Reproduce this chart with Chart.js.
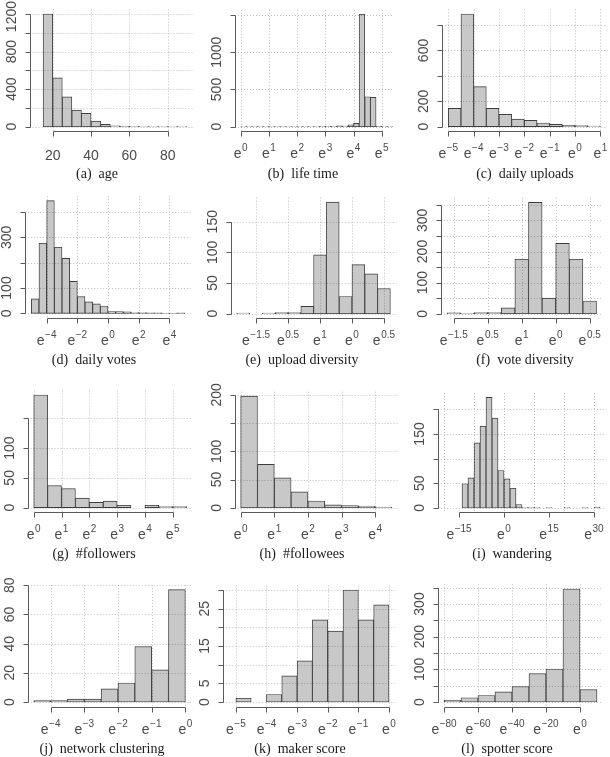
<!DOCTYPE html>
<html>
<head>
<meta charset="utf-8">
<script src="https://cdn.jsdelivr.net/npm/chart.js@4.4.1/dist/chart.umd.min.js"></script>
<style>
  body { margin: 0; background: #fff; }
  #page { position: relative; width: 610px; height: 757px; overflow: hidden; }
  #page canvas { position: absolute; left: 0; top: 0; }
  .cap { position: absolute; width: 200px; text-align: center; font: 14px "Liberation Serif", serif;
         color: #1a1a1a; line-height: 16px; white-space: pre; }
</style>
</head>
<body>
<div id="page"></div>
<script>
// ---- data (bin left edges, counts, axis ticks) ----
const ageBins = [10, 15, 20, 25, 30, 35, 40, 45, 50, 55, 60, 65, 70, 75, 80, 85];
const ageCounts = [0, 1200, 520, 318, 177, 142, 60, 25, 8, 5, 3, 2, 1, 1, 1, 1];
const ageXTicks = [20, 40, 60, 80];
const ageXLabels = ['20', '40', '60', '80'];
const ageYTicks = [0, 200, 400, 600, 800, 1000, 1200];
const ageYLabels = ['0', '', '400', '', '800', '', '1200'];

const lifeBins = [0, 0.2, 0.4, 0.6, 0.8, 1.0, 1.2, 1.4, 1.6, 1.8, 2.0, 2.2, 2.4, 2.6, 2.8, 3.0, 3.2, 3.4, 3.6, 3.8, 4.0, 4.2, 4.4, 4.6, 4.8, 5.0, 5.2];
const lifeCounts = [2, 1, 1, 2, 1, 1, 2, 2, 1, 2, 3, 2, 3, 3, 4, 4, 5, 12, 8, 25, 45, 1510, 403, 395, 6, 2, 1];
const lifeXTicks = [0, 1, 2, 3, 4, 5];
const lifeXLabels = ['0', '1', '2', '3', '4', '5'];
const lifeYTicks = [0, 500, 1000, 1500];
const lifeYLabels = ['0', '500', '1000', ''];

const uploadBins = [-5, -4.5, -4, -3.5, -3, -2.5, -2, -1.5, -1, -0.5, 0, 0.5];
const uploadCounts = [144, 887, 315, 144, 97, 60, 50, 29, 18, 10, 8, 5];
const uploadXTicks = [-5, -4, -3, -2, -1, 0, 1];
const uploadXLabels = ['\u22125', '\u22124', '\u22123', '\u22122', '\u22121', '0', '1'];
const uploadYTicks = [0, 200, 400, 600, 800];
const uploadYLabels = ['0', '200', '', '600', ''];

const voteBins = [-5, -4.5, -4, -3.5, -3, -2.5, -2, -1.5, -1, -0.5, 0, 0.5, 1, 1.5, 2, 2.5, 3, 3.5, 4, 4.5];
const voteCounts = [57, 277, 445, 261, 217, 126, 66, 45, 37, 29, 7, 7, 6, 3, 3, 2, 2, 1, 1, 2];
const voteXTicks = [-4, -2, 0, 2, 4];
const voteXLabels = ['\u22124', '\u22122', '0', '2', '4'];
const voteYTicks = [0, 100, 200, 300, 400];
const voteYLabels = ['0', '100', '', '300', ''];

const upDivBins = [-1.8, -1.6, -1.4, -1.2, -1.0, -0.8, -0.6, -0.4, -0.2, 0, 0.2, 0.4];
const upDivCounts = [1, 0, 1, 2, 2, 12, 96, 182, 28, 80, 65, 41];
const divXTicks = [-1.5, -1, -0.5, 0, 0.5];
const divXLabels = ['\u22121.5', '0.5', '1', '0', '0.5'];
const upDivYTicks = [0, 50, 100, 150];
const upDivYLabels = ['0', '50', '100', '150'];

const voteDivBins = [-1.6, -1.4, -1.2, -1.0, -0.8, -0.6, -0.4, -0.2, 0, 0.2, 0.4];
const voteDivCounts = [3, 1, 4, 4, 19, 175, 358, 50, 226, 175, 41];
const voteDivYTicks = [0, 50, 100, 150, 200, 250, 300, 350];
const voteDivYLabels = ['0', '', '100', '', '200', '', '300', ''];

const followerBins = [0, 0.5, 1, 1.5, 2, 2.5, 3, 3.5, 4, 4.5, 5];
const followerCounts = [189, 37, 32, 16, 9, 11, 4, 0, 4, 2, 2];
const followerXTicks = [0, 1, 2, 3, 4, 5];
const followerXLabels = ['0', '1', '2', '3', '4', '5'];
const followerYTicks = [0, 50, 100, 150];
const followerYLabels = ['0', '50', '100', ''];

const followeeBins = [0, 0.5, 1, 1.5, 2, 2.5, 3, 3.5, 4];
const followeeCounts = [198, 77, 53, 28, 12, 5, 4, 3, 1];
const followeeXTicks = [0, 1, 2, 3, 4];
const followeeXLabels = ['0', '1', '2', '3', '4'];
const followeeYTicks = [0, 50, 100, 150, 200];
const followeeYLabels = ['0', '50', '100', '', '200'];

const wanderBins = [-14, -12, -10, -8, -6, -4, -2, 0, 2, 4, 6, 8, 10, 12, 14, 16, 18, 20, 22, 24, 26, 28, 30];
const wanderCounts = [49, 61, 132, 166, 224, 182, 76, 59, 40, 7, 1, 1, 1, 0, 1, 0, 0, 1, 0, 0, 1, 0, 2];
const wanderXTicks = [-15, 0, 15, 30];
const wanderXLabels = ['\u221215', '0', '15', '30'];
const wanderGridX = [-20, -10, 0, 10, 20, 30];
const wanderYTicks = [0, 50, 100, 150, 200];
const wanderYLabels = ['0', '50', '', '150', ''];

const clusterBins = [-4.5, -4, -3.5, -3, -2.5, -2, -1.5, -1, -0.5];
const clusterCounts = [1, 1, 2, 2, 9, 13, 38, 22, 77];
const clusterXTicks = [-4, -3, -2, -1, 0];
const clusterXLabels = ['\u22124', '\u22123', '\u22122', '\u22121', '0'];
const clusterYTicks = [0, 20, 40, 60, 80];
const clusterYLabels = ['0', '20', '40', '60', '80'];

const makerBins = [-5, -4.5, -4, -3.5, -3, -2.5, -2, -1.5, -1, -0.5];
const makerCounts = [1, 0, 2, 7, 11, 22, 19, 30, 22, 26];
const makerXTicks = [-5, -4, -3, -2, -1, 0];
const makerXLabels = ['\u22125', '\u22124', '\u22123', '\u22122', '\u22121', '0'];
const makerYTicks = [0, 5, 10, 15, 20, 25, 30];
const makerYLabels = ['0', '5', '', '15', '', '25', ''];

const spotterBins = [-80, -70, -60, -50, -40, -30, -20, -10, 0];
const spotterCounts = [5, 13, 20, 31, 47, 87, 101, 346, 38];
const spotterXTicks = [-80, -60, -40, -20, 0];
const spotterXLabels = ['\u221280', '\u221260', '\u221240', '\u221220', '0'];
const spotterYTicks = [0, 50, 100, 150, 200, 250, 300, 350];
const spotterYLabels = ['0', '', '100', '', '200', '', '300', ''];

// ---- panel layout ----
const W = 610, H = 757;
const panels = [
  { bins: ageBins, counts: ageCounts, xt: ageXTicks, xl: ageXLabels, exp: false, yt: ageYTicks, yl: ageYLabels, gx: ageXTicks,
    box: [29.5, 9.5, 193, 131.4], xLim: [7.9, 93.2], yLim: [-50, 1248], cap: '(a)\u2002age', cx: 97, cy: 175 },
  { bins: lifeBins, counts: lifeCounts, xt: lifeXTicks, xl: lifeXLabels, exp: true, yt: lifeYTicks, yl: lifeYLabels, gx: lifeXTicks,
    box: [235, 9.8, 393, 131.2], xLim: [-0.2, 5.4], yLim: [-60, 1570], cap: '(b)\u2002life time', cx: 303, cy: 175 },
  { bins: uploadBins, counts: uploadCounts, xt: uploadXTicks, xl: uploadXLabels, exp: true, yt: uploadYTicks, yl: uploadYLabels, gx: uploadXTicks,
    box: [442.2, 9.5, 606.4, 131.2], xLim: [-5.24, 1.24], yLim: [-35.5, 922.5], cap: '(c)\u2002daily uploads', cx: 525, cy: 175 },
  { bins: voteBins, counts: voteCounts, xt: voteXTicks, xl: voteXLabels, exp: true, yt: voteYTicks, yl: voteYLabels, gx: voteXTicks,
    box: [25.2, 196.2, 190.8, 317.8], xLim: [-5.4, 5.4], yLim: [-17.8, 462.8], cap: '(d)\u2002daily votes', cx: 94, cy: 361 },
  { bins: upDivBins, counts: upDivCounts, xt: divXTicks, xl: divXLabels, exp: true, yt: upDivYTicks, yl: upDivYLabels, gx: divXTicks,
    box: [230.7, 197.6, 396.5, 318.2], xLim: [-1.896, 0.696], yLim: [-7.3, 189.3], cap: '(e)\u2002upload diversity', cx: 302, cy: 361 },
  { bins: voteDivBins, counts: voteDivCounts, xt: divXTicks, xl: divXLabels, exp: true, yt: voteDivYTicks, yl: voteDivYLabels, gx: divXTicks,
    box: [440.9, 197.9, 602.5, 318.2], xLim: [-1.688, 0.688], yLim: [-14.3, 372.3], cap: '(f)\u2002vote diversity', cx: 525, cy: 361 },
  { bins: followerBins, counts: followerCounts, xt: followerXTicks, xl: followerXLabels, exp: true, yt: followerYTicks, yl: followerYLabels, gx: followerXTicks,
    box: [27.6, 390.5, 192.7, 512.2], xLim: [-0.22, 5.72], yLim: [-7.6, 196.6], cap: '(g)\u2002#followers', cx: 94, cy: 555 },
  { bins: followeeBins, counts: followeeCounts, xt: followeeXTicks, xl: followeeXLabels, exp: true, yt: followeeYTicks, yl: followeeYLabels, gx: followeeXTicks,
    box: [234.6, 391.6, 398, 512.2], xLim: [-0.18, 4.68], yLim: [-7.9, 205.9], cap: '(h)\u2002#followees', cx: 302, cy: 555 },
  { bins: wanderBins, counts: wanderCounts, xt: wanderXTicks, xl: wanderXLabels, exp: true, yt: wanderYTicks, yl: wanderYLabels, gx: wanderGridX,
    box: [437.8, 393, 606.2, 512.4], xLim: [-22.08, 34.08], yLim: [-9, 233], cap: '(i)\u2002wandering', cx: 512, cy: 555 },
  { bins: clusterBins, counts: clusterCounts, xt: clusterXTicks, xl: clusterXLabels, exp: true, yt: clusterYTicks, yl: clusterYLabels, gx: clusterXTicks,
    box: [27.7, 585.2, 191.4, 706.5], xLim: [-4.68, 0.18], yLim: [-3.08, 80.08], cap: '(j)\u2002network clustering', cx: 102, cy: 750 },
  { bins: makerBins, counts: makerCounts, xt: makerXTicks, xl: makerXLabels, exp: true, yt: makerYTicks, yl: makerYLabels, gx: makerXTicks,
    box: [223.3, 585.5, 395.1, 706.5], xLim: [-5.41, 0.2], yLim: [-1.2, 31.2], cap: '(k)\u2002maker score', cx: 300, cy: 750 },
  { bins: spotterBins, counts: spotterCounts, xt: spotterXTicks, xl: spotterXLabels, exp: true, yt: spotterYTicks, yl: spotterYLabels, gx: spotterXTicks,
    box: [437.9, 584.4, 603.1, 706.5], xLim: [-83.6, 13.6], yLim: [-13.8, 360], cap: '(l)\u2002spotter score', cx: 507, cy: 750 }
];

const AXIS = '#5a5a5a';
const LABEL = '#4a4a4a';
const FONT = '"Liberation Sans", Arial, sans-serif';

// R-style axes and dotted grid, drawn from the chart's own scales
function rAxes(p) {
  return {
    id: 'rAxes',
    afterDatasetsDraw(chart) {
      const { ctx, chartArea: a, scales: { x, y } } = chart;
      ctx.save();
      ctx.strokeStyle = 'rgba(0,0,0,0.26)';
      ctx.lineWidth = 1;
      ctx.setLineDash([1, 2]);
      ctx.beginPath();
      p.gx.forEach(v => {
        const px = Math.round(x.getPixelForValue(v)) + 0.5;
        ctx.moveTo(px, a.top); ctx.lineTo(px, a.bottom);
      });
      p.yt.forEach(v => {
        const py = Math.round(y.getPixelForValue(v)) + 0.5;
        ctx.moveTo(a.left, py); ctx.lineTo(a.right, py);
      });
      ctx.stroke();
      ctx.restore();
    },
    afterDraw(chart) {
      const { ctx, chartArea: a, scales: { x, y } } = chart;
      const ax = Math.round(a.left) + 0.5;
      const ay = Math.round(a.bottom) + 0.5;
      ctx.save();
      ctx.strokeStyle = AXIS;
      ctx.lineWidth = 1;
      ctx.beginPath();
      // y axis
      const y0 = Math.round(y.getPixelForValue(p.yt[0])) + 0.5;
      const y1 = Math.round(y.getPixelForValue(p.yt[p.yt.length - 1])) + 0.5;
      ctx.moveTo(ax, y0); ctx.lineTo(ax, y1);
      p.yt.forEach(v => {
        const py = Math.round(y.getPixelForValue(v)) + 0.5;
        ctx.moveTo(ax, py); ctx.lineTo(ax - 5, py);
      });
      // x axis
      const x0 = Math.round(x.getPixelForValue(p.xt[0])) + 0.5;
      const x1 = Math.round(x.getPixelForValue(p.xt[p.xt.length - 1])) + 0.5;
      ctx.moveTo(x0, ay); ctx.lineTo(x1, ay);
      p.xt.forEach(v => {
        const px = Math.round(x.getPixelForValue(v)) + 0.5;
        ctx.moveTo(px, ay); ctx.lineTo(px, ay + 5);
      });
      ctx.stroke();

      ctx.fillStyle = LABEL;
      // y labels, rotated; kept inside the page at the top
      ctx.font = '14px ' + FONT;
      ctx.textAlign = 'center';
      ctx.textBaseline = 'alphabetic';
      p.yt.forEach((v, i) => {
        if (!p.yl[i]) return;
        const half = ctx.measureText(p.yl[i]).width / 2;
        const cy = Math.max(y.getPixelForValue(v), half + 1);
        ctx.save();
        ctx.translate(ax - 15, cy);
        ctx.rotate(-Math.PI / 2);
        ctx.fillText(p.yl[i], 0, 0);
        ctx.restore();
      });
      // x labels
      p.xt.forEach((v, i) => {
        const px = x.getPixelForValue(v);
        if (!p.exp) {
          ctx.font = '14px ' + FONT;
          ctx.textAlign = 'center';
          ctx.fillText(p.xl[i], px, ay + 28);
          return;
        }
        ctx.font = '14px ' + FONT;
        const we = ctx.measureText('e').width;
        ctx.font = '10px ' + FONT;
        const ws = ctx.measureText(p.xl[i]).width;
        const start = px - (we + ws + 0.5) / 2;
        ctx.textAlign = 'left';
        ctx.font = '14px ' + FONT;
        ctx.fillText('e', start, ay + 26);
        ctx.font = '10px ' + FONT;
        ctx.fillText(p.xl[i], start + we + 0.5, ay + 19.5);
      });
      ctx.restore();
    }
  };
}

const page = document.getElementById('page');

panels.forEach(p => {
  const cv = document.createElement('canvas');
  cv.width = W;
  cv.height = H;
  page.appendChild(cv);
  const w = p.bins[1] - p.bins[0];

  new Chart(cv, {
    type: 'bar',
    data: {
      datasets: [{
        data: p.bins.map((b, i) => ({ x: b + w / 2, y: p.counts[i] })),
        backgroundColor: '#c8c8c8',
        borderColor: '#3d3d3d',
        borderWidth: 0.9,
        borderSkipped: false,
        barPercentage: 1,
        categoryPercentage: 1
      }]
    },
    options: {
      responsive: false,
      animation: false,
      events: [],
      layout: {
        padding: { left: p.box[0], top: p.box[1], right: W - p.box[2], bottom: H - p.box[3] }
      },
      scales: {
        x: { type: 'linear', display: false, offset: false, min: p.xLim[0], max: p.xLim[1] },
        y: { type: 'linear', display: false, min: p.yLim[0], max: p.yLim[1] }
      },
      plugins: {
        legend: { display: false },
        tooltip: { enabled: false }
      }
    },
    plugins: [rAxes(p)]
  });

  const cap = document.createElement('div');
  cap.className = 'cap';
  cap.textContent = p.cap;
  cap.style.left = (p.cx - 100) + 'px';
  cap.style.top = (p.cy - 9) + 'px';
  page.appendChild(cap);
});
</script>
</body>
</html>
